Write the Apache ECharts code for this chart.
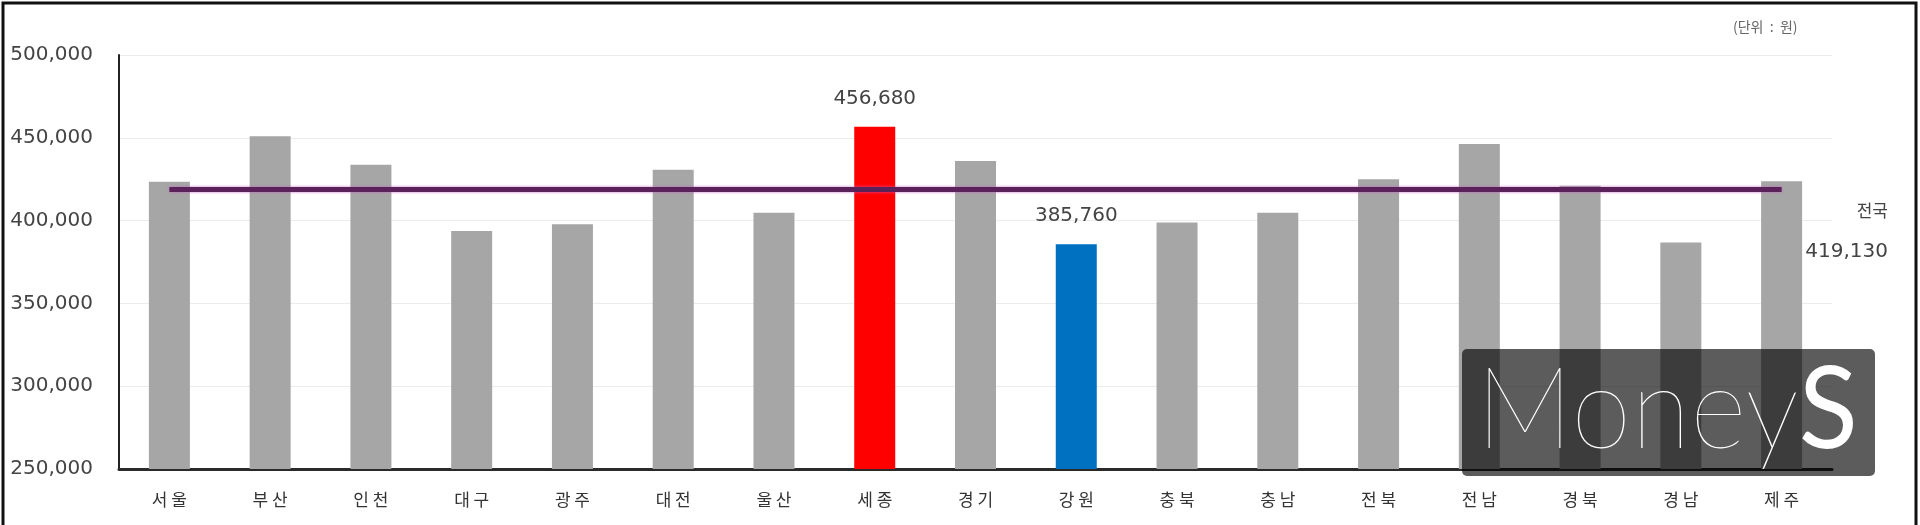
<!DOCTYPE html>
<html>
<head>
<meta charset="utf-8">
<script src="https://cdn.jsdelivr.net/npm/echarts@6/dist/echarts.min.js"></script>
<style>
html,body{margin:0;padding:0;background:#fff;}
#c{width:1920px;height:525px;}
</style>
</head>
<body>
<div id="c"></div>
<script>
// ---- data ----
const categories = ['서울','부산','인천','대구','광주','대전','울산','세종','경기','강원','충북','충남','전북','전남','경북','경남','제주'];
const values = [423500, 451000, 433800, 393700, 397800, 430700, 404800, 456680, 436000, 385760, 398800, 404800, 425000, 446300, 421000, 386800, 423700];
const nationalAverage = 419130;
const nationalLabel = '전국';
const unitText = '(단위  :  원)';
const yTicks = [250000, 300000, 350000, 400000, 450000, 500000];
const highlightHigh = '세종';
const highlightLow = '강원';

const fmt = v => Number(v).toLocaleString('en-US');
const numFont = "'DejaVu Sans','Noto Sans CJK KR',sans-serif";
const korFont = "'Noto Sans CJK KR','Noto Sans',sans-serif";

const chart = echarts.init(document.getElementById('c'), null, {renderer:'canvas'});
const option = {
  animation: false,
  backgroundColor: '#ffffff',
  grid: {left: 119, right: 88, top: 55, bottom: 56, containLabel: false},
  xAxis: {
    type: 'category',
    data: categories,
    axisLine: {show: true, lineStyle: {color: '#2a2a2a', width: 3}},
    axisTick: {show: false},
    axisLabel: {
      margin: 22, fontSize: 17, color: '#333', fontFamily: korFont,
      formatter: v => v.split('').join(' ')
    }
  },
  yAxis: {
    type: 'value',
    min: yTicks[0], max: yTicks[yTicks.length-1], interval: yTicks[1]-yTicks[0],
    axisLine: {show: true, lineStyle: {color: '#222', width: 2}},
    axisTick: {show: false},
    splitLine: {show: true, lineStyle: {color: '#ececec', width: 1}},
    axisLabel: {margin: 26, fontSize: 20, color: '#444', fontFamily: numFont, formatter: v => fmt(v)}
  },
  series: [{
    type: 'bar',
    data: values.map((v, i) => {
      const name = categories[i];
      const show = (name === highlightHigh || name === highlightLow);
      return {value: v, label: {show: show}};
    }),
    barWidth: 41,
    itemStyle: {
      color: p => p.name === highlightHigh ? '#ff0000' : (p.name === highlightLow ? '#0070c0' : '#a6a6a6')
    },
    label: {
      position: 'top', distance: 18, fontSize: 20, color: '#444', fontFamily: numFont,
      formatter: p => fmt(p.value)
    },
    markLine: {
      silent: true,
      symbol: ['none','none'],
      label: {show: false},
      lineStyle: {color: '#5a2258', width: 5, type: 'solid', shadowColor: 'rgba(200,100,200,0.9)', shadowBlur: 3},
      data: [[
        {xAxis: categories[0], yAxis: nationalAverage},
        {xAxis: categories[categories.length-1], yAxis: nationalAverage}
      ]]
    }
  }],
  graphic: [
    {type:'text', left: 1733, top: 20, z: 10,
     style:{text: unitText, fontSize: 14, fill:'#666', fontFamily: korFont}},
    {type:'text', right: 1920-1888, top: 202, z: 10,
     style:{text: nationalLabel, fontSize: 17, fill:'#444', fontFamily: korFont, textAlign:'right'}},
    {type:'text', right: 1920-1888, top: 242, z: 10,
     style:{text: fmt(nationalAverage), fontSize: 20, fill:'#444', fontFamily: numFont, textAlign:'right'}},
    {type:'rect', z: 20, shape:{x:1462, y:349, width:413, height:127, r:5},
     style:{fill:'rgba(0,0,0,0.64)'}},
    {type:'text', z: 21, x: 1476, y: 411, scaleX: 0.955, originX: 0, originY: 0,
     style:{text:'{a|Money}{b|S}', textVerticalAlign:'middle',
       rich:{
         a:{fontSize: 114, fontWeight: 100, fontFamily: "Lato, Roboto, sans-serif", fill:'#ffffff', color:'#ffffff'},
         b:{fontSize: 114, fontWeight: 400, fontFamily: "Lato, Roboto, sans-serif", fill:'#ffffff', color:'#ffffff'}
       }}},
    {type:'polyline', z: 30, shape:{points:[[3,525],[3,3],[1916,3],[1916,525]]},
     style:{stroke:'#111', lineWidth: 3, fill: null}}
  ]
};
chart.setOption(option);
</script>
</body>
</html>
